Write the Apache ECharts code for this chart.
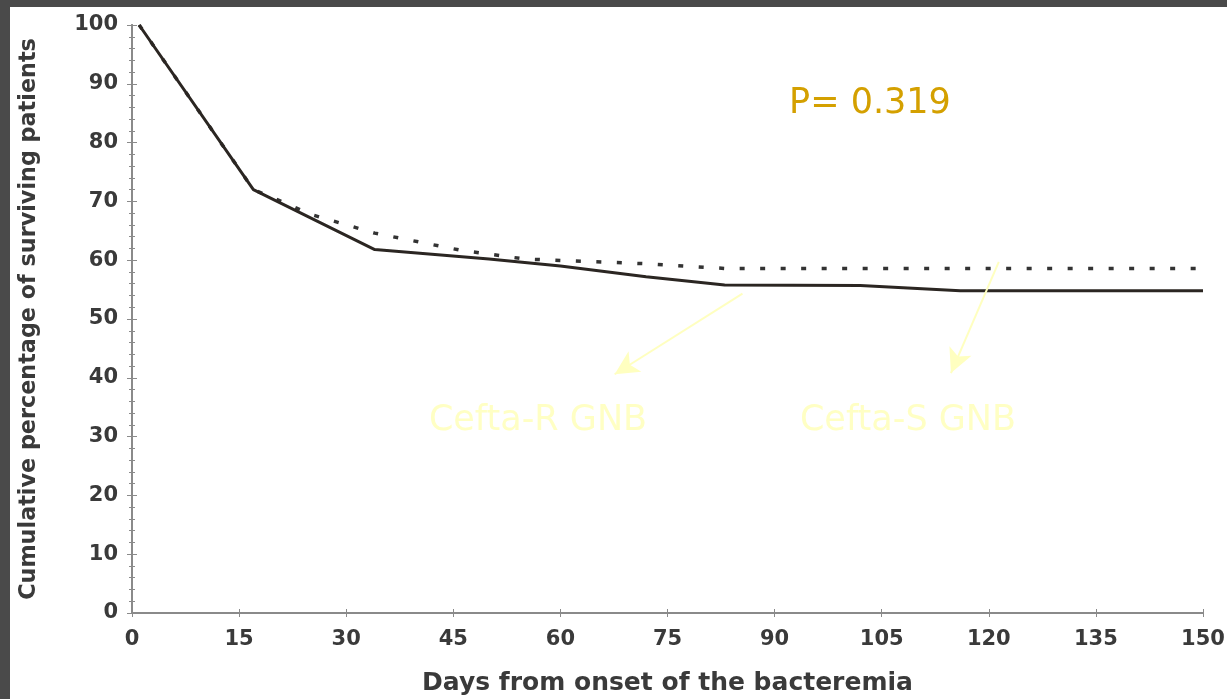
<!DOCTYPE html>
<html>
<head>
<meta charset="utf-8">
<title>Survival curve</title>
<script src="https://cdn.jsdelivr.net/npm/echarts@6/dist/echarts.min.js"></script>
<style>
  html, body { margin: 0; padding: 0; background: #4a4a4a; }
  #chart { width: 1227px; height: 699px; }
</style>
</head>
<body>
<div id="chart"></div>
<script>
// days / percentages
const ceftaRDays = [1, 17, 34, 50, 60, 72, 83, 102, 116, 150]
const ceftaRPct = [100, 72, 61.8, 60.2, 59, 57.2, 55.8, 55.7, 54.8, 54.8]

const ceftaSDays = [1, 17, 20, 25, 34, 46, 55, 72, 83, 150]
const ceftaSPct = [100, 72, 70.5, 67.8, 64.6, 61.7, 60.2, 59.4, 58.6, 58.6]

const xTicks = [0, 15, 30, 45, 60, 75, 90, 105, 120, 135, 150]
const yTicks = [0, 10, 20, 30, 40, 50, 60, 70, 80, 90, 100]

// arrows: [from day, from pct] -> [to day, to pct]
const arrowR = [[85.5, 54.3], [67.6, 40.6]]
const arrowS = [[121.4, 59.7], [114.7, 40.8]]

const chart = echarts.init(document.getElementById('chart'))

const axisGray = '#8a8a8a'
const labelFont = {
  color: '#3a3a3a',
  fontFamily: 'DejaVu Sans',
  fontWeight: 'bold'
}

function pairs(xs, ys) {
  return xs.map((x, i) => [x, ys[i]])
}

const options = {
  backgroundColor: '#fff',
  animation: false,
  grid: {
    left: 132,
    right: 24,
    top: 25,
    bottom: 86,
    outerBoundsMode: 'none'
  },
  xAxis: [
    {
      type: 'value',
      min: xTicks[0],
      max: xTicks[xTicks.length - 1],
      interval: 15,
      name: 'Days from onset of the bacteremia',
      nameLocation: 'middle',
      nameGap: 58,
      nameTextStyle: { ...labelFont, fontSize: 25 },
      axisLine: { show: true, lineStyle: { color: axisGray, width: 2 } },
      axisTick: { show: true, inside: true, length: 4, lineStyle: { color: axisGray } },
      axisLabel: { ...labelFont, fontSize: 21, margin: 16 },
      splitLine: { show: false }
    },
    {
      type: 'value',
      position: 'top',
      min: xTicks[0],
      max: xTicks[xTicks.length - 1],
      interval: 15,
      axisLine: { show: true, lineStyle: { color: axisGray, width: 2 } },
      axisTick: { show: true, inside: true, length: 4, lineStyle: { color: axisGray } },
      axisLabel: { show: false },
      splitLine: { show: false }
    }
  ],
  yAxis: [
    {
      type: 'value',
      min: yTicks[0],
      max: yTicks[yTicks.length - 1],
      interval: 10,
      name: 'Cumulative percentage of surviving patients',
      nameLocation: 'middle',
      nameGap: 92,
      nameTextStyle: { ...labelFont, fontSize: 22.3 },
      axisLine: { show: true, lineStyle: { color: axisGray, width: 2 } },
      axisTick: { show: true, inside: true, length: 5, lineStyle: { color: axisGray } },
      minorTick: { show: true, splitNumber: 5, length: 3, lineStyle: { color: axisGray } },
      axisLabel: { ...labelFont, fontSize: 21, margin: 14 },
      splitLine: { show: false }
    },
    {
      type: 'value',
      position: 'right',
      min: yTicks[0],
      max: yTicks[yTicks.length - 1],
      interval: 10,
      axisLine: { show: true, lineStyle: { color: axisGray, width: 2 } },
      axisTick: { show: true, inside: true, length: 5, lineStyle: { color: axisGray } },
      minorTick: { show: true, splitNumber: 5, length: 3, lineStyle: { color: axisGray } },
      axisLabel: { show: false },
      splitLine: { show: false }
    }
  ],
  series: [
    {
      name: 'Cefta-S GNB',
      type: 'line',
      data: pairs(ceftaSDays, ceftaSPct),
      showSymbol: false,
      lineStyle: { color: '#333', width: 3.5, type: [5, 15.5] },
      z: 2
    },
    {
      name: 'Cefta-R GNB',
      type: 'line',
      data: pairs(ceftaRDays, ceftaRPct),
      showSymbol: false,
      lineStyle: { color: '#2b2622', width: 3 },
      z: 3
    },
    {
      // annotation arrows
      type: 'line',
      data: [],
      silent: true,
      markLine: {
        silent: true,
        symbol: ['none', 'arrow'],
        symbolSize: [18, 24],
        label: { show: false },
        lineStyle: { color: '#ffffc0', width: 2, type: 'solid' },
        data: [
          [{ coord: arrowR[0] }, { coord: arrowR[1] }],
          [{ coord: arrowS[0] }, { coord: arrowS[1] }]
        ]
      },
      z: 4
    }
  ],
  graphic: [
    // dark frame of the slide
    { type: 'rect', left: 0, top: 0, shape: { width: 1227, height: 7 }, style: { fill: '#4a4a4a' } },
    { type: 'rect', left: 0, top: 0, shape: { width: 10, height: 699 }, style: { fill: '#4a4a4a' } },
    {
      type: 'text',
      x: 870,
      y: 104,
      style: {
        text: 'P= 0.319',
        fill: '#d4a000',
        font: '35px "DejaVu Sans"',
        align: 'center',
        verticalAlign: 'middle'
      }
    },
    {
      type: 'text',
      x: 538,
      y: 421,
      style: {
        text: 'Cefta-R GNB',
        fill: '#ffffc4',
        font: '35px "DejaVu Sans"',
        align: 'center',
        verticalAlign: 'middle'
      }
    },
    {
      type: 'text',
      x: 908,
      y: 421,
      style: {
        text: 'Cefta-S GNB',
        fill: '#ffffc4',
        font: '35px "DejaVu Sans"',
        align: 'center',
        verticalAlign: 'middle'
      }
    }
  ]
}

chart.setOption(options)
</script>
</body>
</html>
